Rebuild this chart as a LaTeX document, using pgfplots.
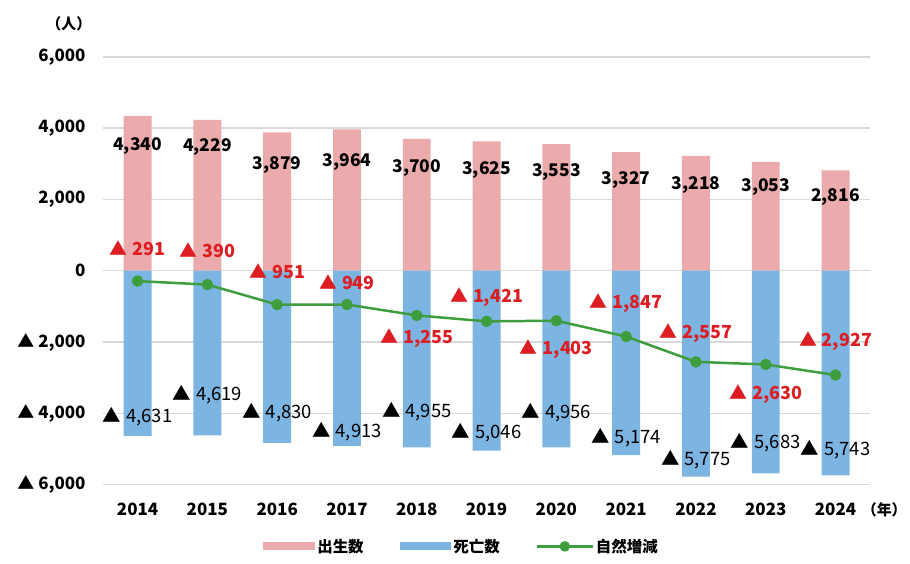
\documentclass[border=0pt]{standalone}
\usepackage{pgfplots}
\pgfplotsset{compat=1.18}
\usepackage{fontspec}
\setmainfont{Noto Sans CJK JP}
\definecolor{birth}{RGB}{235,170,172}
\definecolor{death}{RGB}{125,181,226}
\definecolor{nat}{RGB}{62,158,62}
\definecolor{lab}{RGB}{220,30,35}
\definecolor{gridc}{RGB}{217,217,217}
\begin{document}
\begin{tikzpicture}
\begin{axis}[
  at={(0,0)}, anchor=south west,
  scale only axis, width=770bp, height=429bp,
  xmin=-0.5, xmax=10.5, ymin=-6000, ymax=6000,
  axis line style={draw=none},
  ymajorgrids, major grid style={gridc, line width=1.5bp},
  ytick={-6000,-4000,-2000,0,2000,4000,6000},
  yticklabels={{▲\hspace{4bp}6,000}, {▲\hspace{4bp}4,000}, {▲\hspace{4bp}2,000}, {0}, {2,000}, {4,000}, {6,000}},
  xtick={0,...,10},
  xticklabels={2014,2015,2016,2017,2018,2019,2020,2021,2022,2023,2024},
  major tick length=0pt,
  yticklabel style={anchor=east, inner sep=0pt, xshift=-17bp, font=\fontsize{17bp}{20bp}\selectfont\bfseries},
  xticklabel style={anchor=north, inner sep=0pt, yshift=-18bp, font=\fontsize{17bp}{20bp}\selectfont\bfseries},
  clip=false,
  legend style={at={(0.4675,-0.1445)}, anchor=center, legend columns=3, draw=none, fill=none,
    font=\fontsize{15.5bp}{18bp}\selectfont\bfseries,
    /tikz/every even column/.append style={column sep=34bp}},
]
\addplot[ybar, bar width=28bp, bar shift=0pt, fill=birth, draw=none,
  legend image code/.code={\fill[birth] (0bp,-4bp) rectangle (52bp,4bp);}]
  coordinates {(0,4340) (1,4229) (2,3879) (3,3964) (4,3700) (5,3625) (6,3553) (7,3327) (8,3218) (9,3053) (10,2816)};
\addlegendentry{出生数}
\addplot[ybar, bar width=28bp, bar shift=0pt, fill=death, draw=none,
  legend image code/.code={\fill[death] (0bp,-4bp) rectangle (52bp,4bp);}]
  coordinates {(0,-4631) (1,-4619) (2,-4830) (3,-4913) (4,-4955) (5,-5046) (6,-4956) (7,-5174) (8,-5775) (9,-5683) (10,-5743)};
\addlegendentry{死亡数}
\addplot[nat, line width=2.5bp, mark=*, mark size=5.5bp, mark options={fill=nat, draw=nat, line width=0.5bp},
  legend image code/.code={\draw[nat, line width=2.5bp] (0bp,0bp) -- (56bp,0bp); \fill[nat] (28bp,0bp) circle (4bp);}]
  coordinates {(0,-291) (1,-390) (2,-951) (3,-949) (4,-1255) (5,-1421) (6,-1403) (7,-1847) (8,-2557) (9,-2630) (10,-2927)};
\addlegendentry{自然増減}
% births labels
\addplot[forget plot, draw=none, mark=none, nodes near coords={\pgfplotspointmeta}, point meta=explicit symbolic,
  every node near coord/.append style={anchor=center, inner sep=0pt, text=black, font=\fontsize{17.5bp}{20bp}\selectfont\bfseries}]
  table[meta=lab] {
x y lab
0 3496 4,340
1 3468 4,229
2 2965 3,879
3 3049 3,964
4 2881 3,700
5 2825 3,625
6 2769 3,553
7 2545 3,327
8 2405 3,218
9 2349 3,053
10 2070 2,816
};
% deaths labels
\addplot[forget plot, draw=none, mark=none, nodes near coords={▲\hspace{5bp}\pgfplotspointmeta}, point meta=explicit symbolic,
  every node near coord/.append style={anchor=center, inner sep=0pt, text=black, font=\fontsize{18.5bp}{20bp}\selectfont}]
  table[meta=lab] {
x y lab
0 -4088 4,631
1 -3472 4,619
2 -3976 4,830
3 -4508 4,913
4 -3948 4,955
5 -4536 5,046
6 -3976 4,956
7 -4676 5,174
8 -5292 5,775
9 -4816 5,683
10 -5012 5,743
};
% natural change labels
\addplot[forget plot, draw=none, mark=none, nodes near coords={▲\hspace{5bp}\pgfplotspointmeta}, point meta=explicit symbolic,
  every node near coord/.append style={anchor=center, inner sep=0pt, text=lab, font=\fontsize{18bp}{20bp}\selectfont\bfseries}]
  table[meta=lab] {
x y lab
0 644 291
1 588 390
2 -28 951
3 -336 949
4 -1904 1,255
5 -728 1,421
6 -2212 1,403
7 -896 1,847
8 -1764 2,557
9 -3472 2,630
10 -1988 2,927
};
\node[font=\fontsize{15bp}{18bp}\selectfont\bfseries] at (rel axis cs:-0.044,1.077) {（人）};
\node[font=\fontsize{15bp}{18bp}\selectfont\bfseries] at (rel axis cs:1.018,-0.058) {（年）};
\end{axis}
\path[use as bounding box] (-103bp,-79bp) rectangle (807bp,486bp);
\end{tikzpicture}
\end{document}
